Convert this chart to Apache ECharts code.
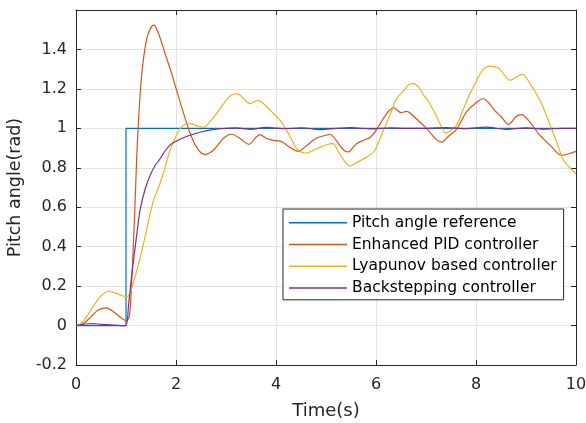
<!DOCTYPE html>
<html>
<head>
<meta charset="utf-8">
<script src="https://cdn.jsdelivr.net/npm/echarts@6/dist/echarts.min.js"></script>
<style>html,body{margin:0;padding:0;background:#fff}#c{width:586px;height:423px}</style>
</head>
<body>
<div id="c"></div>
<script>
var seriesNames = ['Pitch angle reference','Enhanced PID controller','Lyapunov based controller','Backstepping controller'];
var xTicks = [0,2,4,6,8,10];
var yTicks = [-0.2,0,0.2,0.4,0.6,0.8,1,1.2,1.4];

var refPts = [[0,0],[1,0],[1,1],[10,1]];

var pidPts = [[0,0],[0.15,0.01],[0.3,0.045],[0.45,0.08],[0.6,0.09],[0.75,0.07],[0.9,0.04],[1.0,0.025],[1.06,0.04],[1.1,0.15],[1.17,0.55],[1.23,0.94],[1.31,1.26],[1.41,1.45],[1.5,1.512],[1.56,1.523],[1.62,1.5],[1.68,1.46],[1.78,1.38],[1.91,1.28],[2.11,1.11],[2.31,0.956],[2.45,0.89],[2.58,0.868],[2.75,0.89],[2.95,0.95],[3.11,0.97],[3.3,0.945],[3.46,0.919],[3.6,0.955],[3.68,0.968],[3.8,0.95],[3.95,0.939],[4.1,0.934],[4.3,0.9],[4.44,0.883],[4.6,0.91],[4.8,0.95],[5.0,0.965],[5.08,0.97],[5.2,0.94],[5.35,0.89],[5.44,0.88],[5.6,0.92],[5.75,0.94],[5.88,0.954],[6.0,0.99],[6.2,1.07],[6.35,1.105],[6.5,1.08],[6.61,1.086],[6.8,1.05],[7.01,1.0],[7.2,0.945],[7.31,0.93],[7.45,0.96],[7.61,0.995],[7.81,1.083],[8.0,1.13],[8.15,1.15],[8.25,1.13],[8.38,1.09],[8.5,1.06],[8.65,1.02],[8.8,1.06],[8.91,1.07],[9.05,1.04],[9.28,0.964],[9.5,0.91],[9.71,0.863],[9.85,0.87],[10,0.883]];

var lyaPts = [[0,0],[0.1,0.01],[0.2,0.04],[0.3,0.08],[0.4,0.118],[0.5,0.15],[0.65,0.174],[0.75,0.168],[0.87,0.157],[1.0,0.147],[1.05,0.15],[1.1,0.18],[1.15,0.22],[1.25,0.31],[1.35,0.416],[1.45,0.53],[1.55,0.635],[1.68,0.72],[1.78,0.8],[1.88,0.888],[1.98,0.95],[2.08,0.998],[2.18,1.02],[2.28,1.024],[2.4,1.015],[2.55,1.005],[2.7,1.04],[2.81,1.075],[3.0,1.14],[3.1,1.168],[3.23,1.176],[3.35,1.15],[3.48,1.125],[3.56,1.135],[3.65,1.14],[3.75,1.125],[3.95,1.075],[4.05,1.05],[4.15,1.015],[4.3,0.95],[4.41,0.897],[4.5,0.88],[4.61,0.875],[4.8,0.895],[5.01,0.917],[5.14,0.922],[5.25,0.88],[5.38,0.83],[5.47,0.809],[5.6,0.825],[5.81,0.854],[5.95,0.88],[6.05,0.93],[6.15,0.99],[6.3,1.08],[6.41,1.15],[6.55,1.19],[6.65,1.22],[6.75,1.227],[6.85,1.21],[6.95,1.17],[7.08,1.125],[7.25,1.04],[7.4,0.976],[7.5,0.99],[7.61,1.015],[7.75,1.1],[7.88,1.176],[8.05,1.26],[8.15,1.3],[8.28,1.315],[8.4,1.31],[8.48,1.3],[8.6,1.26],[8.69,1.244],[8.8,1.26],[8.93,1.274],[9.05,1.24],[9.28,1.142],[9.4,1.07],[9.51,0.998],[9.63,0.92],[9.75,0.838],[9.88,0.8],[10,0.77]];

var bsPts = [[0,0],[0.2,0.008],[0.35,0.01],[0.5,0.006],[0.7,0.004],[0.9,0.0],[1.0,0.0],[1.05,0.1],[1.1,0.22],[1.15,0.33],[1.22,0.47],[1.28,0.584],[1.38,0.69],[1.48,0.76],[1.58,0.81],[1.68,0.845],[1.78,0.885],[1.88,0.915],[1.98,0.932],[2.08,0.945],[2.28,0.965],[2.48,0.98],[2.7,0.992],[2.9,0.998],[3.2,1.002],[3.5,0.995],[3.8,1.005],[4.2,0.998],[4.5,1.003],[4.9,0.993],[5.2,1.0],[5.5,1.004],[5.9,0.997],[6.3,1.003],[6.6,1.0],[7.0,1.0],[7.4,1.004],[7.8,0.998],[8.2,1.006],[8.6,0.995],[9.0,1.002],[9.4,0.996],[9.7,1.0],[10,1.0]];

var colors = ['#0072BD','#D95319','#EDB120','#7E2F8E'];
var FONT = 'DejaVu Sans';
var axisColor = '#262626';

function fmt(v){ var r = Math.round(v*10)/10; return String(r); }

var chart = echarts.init(document.getElementById('c'), null, {renderer:'canvas'});
var boxAxis = {
  axisLine:{show:true,onZero:false,lineStyle:{color:axisColor,width:1}},
  axisTick:{show:true,inside:true,length:5,lineStyle:{color:axisColor}},
  axisLabel:{show:false},
  splitLine:{show:false}
};
chart.setOption({
  animation:false,
  backgroundColor:'#fff',
  color:colors,
  grid:{left:76,right:10,top:10,bottom:58,containLabel:false,outerBoundsMode:'none'},
  xAxis:[
    {type:'value',min:0,max:10,interval:2,position:'bottom',
     name:'Time(s)',nameLocation:'middle',nameGap:37,
     nameTextStyle:{fontFamily:FONT,fontSize:18,color:axisColor},
     axisLine:{show:true,onZero:false,lineStyle:{color:axisColor,width:1}},
     axisTick:{show:true,inside:true,length:5,lineStyle:{color:axisColor}},
     axisLabel:{fontFamily:FONT,fontSize:16,color:axisColor,margin:12,
       formatter:function(v){ return xTicks.indexOf(v)>=0 ? String(v) : ''; }},
     splitLine:{show:true,lineStyle:{color:'#e3e3e3',width:1}}},
    Object.assign({type:'value',min:0,max:10,interval:2,position:'top'}, boxAxis)
  ],
  yAxis:[
    {type:'value',min:-0.2,max:1.6,interval:0.2,position:'left',
     name:'Pitch angle(rad)',nameLocation:'middle',nameGap:43,
     nameTextStyle:{fontFamily:FONT,fontSize:17.5,color:axisColor},
     axisLine:{show:true,onZero:false,lineStyle:{color:axisColor,width:1}},
     axisTick:{show:true,inside:true,length:5,lineStyle:{color:axisColor}},
     axisLabel:{fontFamily:FONT,fontSize:16,color:axisColor,margin:9,
       formatter:function(v){ var r=Math.round(v*10)/10; return yTicks.indexOf(r)>=0 ? fmt(v) : ''; }},
     splitLine:{show:true,lineStyle:{color:'#e3e3e3',width:1}}},
    Object.assign({type:'value',min:-0.2,max:1.6,interval:0.2,position:'right'}, boxAxis)
  ],
  legend:{
    orient:'vertical',left:283,top:209,
    data:seriesNames,
    backgroundColor:'#fff',borderColor:axisColor,borderWidth:1,
    padding:[3,7,1,6],itemGap:0,itemWidth:58,itemHeight:1.5,icon:'rect',
    textStyle:{fontFamily:FONT,fontSize:15.5,color:'#000',lineHeight:21.7}
  },
  series:[
    {name:seriesNames[0],type:'line',data:refPts,showSymbol:false,symbol:'none',lineStyle:{width:1.2,color:colors[0]},itemStyle:{color:colors[0]}},
    {name:seriesNames[1],type:'line',data:pidPts,showSymbol:false,symbol:'none',smooth:0.3,lineStyle:{width:1.2,color:colors[1]},itemStyle:{color:colors[1]}},
    {name:seriesNames[2],type:'line',data:lyaPts,showSymbol:false,symbol:'none',smooth:0.3,lineStyle:{width:1.2,color:colors[2]},itemStyle:{color:colors[2]}},
    {name:seriesNames[3],type:'line',data:bsPts,showSymbol:false,symbol:'none',smooth:0.3,lineStyle:{width:1.2,color:colors[3]},itemStyle:{color:colors[3]}}
  ]
});
</script>
</body>
</html>
